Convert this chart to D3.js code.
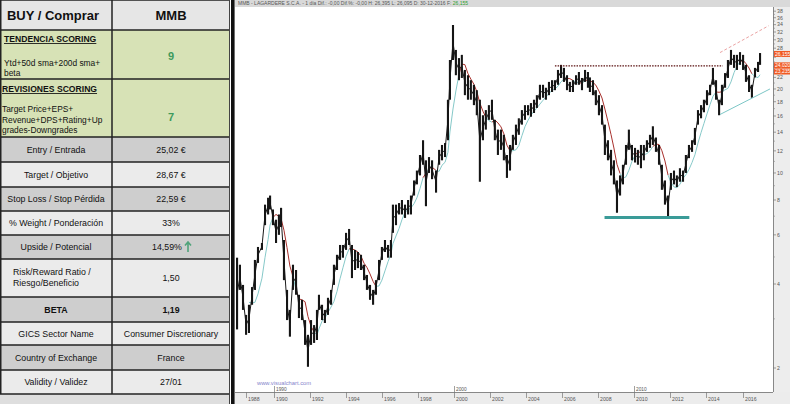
<!DOCTYPE html>
<html><head><meta charset="utf-8">
<script src="https://cdn.jsdelivr.net/npm/d3@7/dist/d3.min.js"></script>
<style>body{margin:0;background:#fff;} svg{display:block;font-family:"Liberation Sans",Arial,sans-serif;}</style>
</head><body><svg id="c" width="790" height="404"></svg>
<script>
// ---------- table data ----------
const rowLabels = [
  ["BUY / Comprar"],
  ["TENDENCIA SCORING", "Ytd+50d sma+200d sma+", "beta"],
  ["REVISIONES SCORING", "Target Price+EPS+", "Revenue+DPS+Rating+Up", "grades-Downgrades"],
  ["Entry / Entrada"],
  ["Target / Objetivo"],
  ["Stop Loss / Stop Pérdida"],
  ["% Weight / Ponderación"],
  ["Upside / Potencial"],
  ["Risk/Reward  Ratio /", "Riesgo/Beneficio"],
  ["BETA"],
  ["GICS Sector Name"],
  ["Country of Exchange"],
  ["Validity / Validez"]
];
const rowValues = ["MMB", "9", "7", "25,02 €", "28,67 €", "22,59 €", "33%", "14,59%", "1,50", "1,19", "Consumer Discretionary", "France", "27/01"];

// ---------- price data (Lagardère, log scale, ~2-month ranges) ----------
const years = [1987.98,1988.14,1988.31,1988.48,1988.64,1988.81,1988.97,1989.14,1989.36,1989.53,1989.70,1989.81,1989.97,1990.14,1990.30,1990.42,1990.58,1990.75,1990.91,1991.08,1991.25,1991.41,1991.58,1991.75,1991.91,1992.08,1992.25,1992.41,1992.52,1992.69,1992.85,1993.02,1993.19,1993.35,1993.52,1993.69,1993.85,1994.02,1994.19,1994.35,1994.52,1994.68,1994.85,1995.02,1995.18,1995.35,1995.52,1995.68,1995.85,1996.01,1996.18,1996.35,1996.51,1996.62,1996.79,1996.96,1997.12,1997.29,1997.46,1997.62,1997.79,1997.95,1998.12,1998.29,1998.45,1998.62,1998.79,1999.01,1999.18,1999.34,1999.51,1999.67,1999.78,1999.95,2000.11,2000.28,2000.44,2000.61,2000.78,2000.94,2001.11,2001.27,2001.44,2001.61,2001.77,2001.94,2002.11,2002.27,2002.44,2002.61,2002.77,2002.94,2003.11,2003.27,2003.44,2003.60,2003.77,2003.94,2004.11,2004.27,2004.44,2004.60,2004.77,2004.94,2005.10,2005.27,2005.44,2005.60,2005.77,2005.94,2006.10,2006.27,2006.43,2006.60,2006.77,2006.93,2007.10,2007.27,2007.43,2007.54,2007.71,2007.87,2008.04,2008.21,2008.37,2008.54,2008.71,2008.87,2009.04,2009.21,2009.37,2009.54,2009.70,2009.87,2010.04,2010.20,2010.37,2010.53,2010.70,2010.87,2011.03,2011.20,2011.37,2011.53,2011.70,2011.87,2012.03,2012.20,2012.36,2012.53,2012.70,2012.86,2013.03,2013.20,2013.36,2013.53,2013.70,2013.86,2014.03,2014.20,2014.36,2014.53,2014.70,2014.86,2015.03,2015.19,2015.36,2015.53,2015.69,2015.86,2016.03,2016.19,2016.36,2016.52,2016.69,2016.86,2016.97];
const highs = [4.97,4.69,3.97,3.10,3.37,3.90,4.88,5.43,5.61,7.7,8.15,8.3,7.4,6.8,7.1,7.5,5.75,3.81,3.23,4.69,4.49,3.66,3.51,2.97,2.63,2.97,2.85,3.23,3.66,3.37,3.23,3.57,3.81,4.69,5.09,5.52,5.52,6.1,6.3,5.52,5.30,5.21,5.09,4.69,4.31,3.97,3.81,4.13,4.88,5.43,5.75,5.52,5.75,7.7,7.7,7.8,8.0,7.7,8.0,8.3,9.4,10.2,11.6,13.1,11.1,11.4,11.1,10.2,12.1,12.6,12.8,18.3,25.4,33.9,27.6,25.8,26.5,23.4,22.4,21.5,20.7,19.8,18.3,16.1,16.8,17.5,18.3,15.5,14.3,14.3,13.7,11.6,12.6,13.7,14.9,15.7,16.8,17.5,17.5,17.8,18.3,19.0,20.7,20.7,20.2,21.2,21.5,21.5,23.4,24.4,23.8,22.4,21.2,21.5,22.4,23.0,21.9,23.4,23.0,22.0,21.5,19.8,19.0,17.5,14.9,13.1,12.1,11.1,9.4,9.8,10.7,12.6,14.3,12.6,12.3,12.1,12.6,12.6,13.1,13.7,14.7,13.4,12.6,10.7,9.4,8.3,10.0,10.2,9.8,10.4,10.2,11.6,12.6,13.1,14.5,16.8,17.5,18.3,19.8,20.7,23.8,21.5,18.3,20.7,22.8,25.4,27.6,26.5,26.5,27.1,26.5,24.4,22.4,20.7,23.8,25.0,26.9];
const lows = [2.75,3.81,3.23,2.63,2.67,3.37,3.81,4.76,5.30,6.5,7.1,7.4,6.5,5.61,6.0,6.4,4.13,2.97,2.59,3.81,3.66,3.02,2.97,2.42,2.02,2.42,2.46,2.52,3.23,2.97,2.90,3.10,3.37,3.97,4.49,4.88,4.97,5.30,5.52,4.2,4.49,4.56,4.49,4.13,3.81,3.51,3.37,3.66,4.13,4.88,5.21,4.97,4.97,6.1,6.5,7.1,7.1,6.9,7.1,7.1,8.3,9.1,9.8,10.7,7.6,10.0,9.5,8.5,10.7,11.1,11.4,13.1,18.3,25.4,22.4,21.5,21.9,19.0,18.3,18.3,17.5,16.1,9.3,13.1,14.3,15.5,15.5,13.1,11.6,12.1,11.1,9.6,10.2,12.1,12.6,13.7,14.9,15.5,16.1,15.9,16.4,17.1,18.3,18.6,18.3,19.0,19.5,19.8,20.7,21.9,21.2,19.8,19.5,19.5,20.7,20.7,19.8,21.2,20.2,19.5,19.0,17.5,16.1,14.9,11.6,11.1,9.8,9.1,7.2,8.3,9.1,10.7,12.1,11.1,10.9,10.7,10.4,11.1,11.9,12.3,12.6,11.9,10.7,8.7,7.7,7.0,8.7,9.1,8.9,9.3,9.3,10.0,11.3,11.9,12.6,14.9,15.7,16.5,17.5,19.0,20.7,18.3,16.1,17.5,20.2,21.9,24.4,23.8,23.4,24.4,23.4,21.2,19.5,18.6,22.0,23.0,24.4];

// axis labels
const priceTicks = [2,4,6,8,10,12,14,16,18,20,22,24,26,28,30,32,34,36,38];
const yearTicks = [1988.45,1990,1992,1994,1996,1998,2000,2002,2004,2006,2008,2010,2012,2014,2016];
const yearLabels = ["1988","1990","1992","1994","1996","1998","2000","2002","2004","2006","2008","2010","2012","2014","2016"];
const decadeTicks = [1990,2000,2010];
const lastLabels = ["26,155","24,020","23,235"];
const lastLabelPrices = [26.7,24.3,23.1];

// drawn annotation lines [year1, price1, year2, price2]
const resistanceLine = [2005.6, 24.2, 2014.9, 24.2];
const supportLine = [2008.35, 6.93, 2013.05, 6.93];
const lowerChannel = [2014.75, 16.2, 2017.52, 20.0];
const upperChannel = [2014.75, 27.0, 2017.45, 33.7];

const headerText = "MMB - LAGARDERE S.C.A. - 1 día  Dif.: -0,00  Dif.%: -0,00  H: 26,395  L: 26,095  D: 30-12-2016  F:";
const headerLast = "26,155";

// ---------- drawing ----------
const svg = d3.select("#c");

// ----- table -----
const rowTops = [0,30,79,137,162,187,211,235,259,297,322,345,370,394];
const colX = 112, tableW = 230;
const rowFill = (i) => i === 0 ? "#e6e6e6" : (i <= 2 ? "#d7e2b6" : ((i - 3) % 2 === 0 ? "#cecece" : "#ebebeb"));
const T = svg.append("g");
T.append("rect").attr("x",0).attr("y",394).attr("width",tableW).attr("height",10).attr("fill","#dedede");
rowLabels.forEach((lab, i) => {
  const y0 = rowTops[i], y1 = rowTops[i+1], h = y1 - y0, cy = (y0+y1)/2;
  T.append("rect").attr("x",0).attr("y",y0).attr("width",tableW).attr("height",h).attr("fill",rowFill(i));
  if (i === 0) {
    T.append("text").attr("x",53).attr("y",cy+4.5).attr("text-anchor","middle").attr("font-size",13).attr("font-weight","bold").attr("fill","#111").text(lab[0]);
    T.append("text").attr("x",171).attr("y",cy+4.5).attr("text-anchor","middle").attr("font-size",13).attr("font-weight","bold").attr("fill","#111").text(rowValues[i]);
  } else if (i <= 2) {
    const lineYs = i === 1 ? [42, 66, 76] : [92, 112, 122.5, 133];
    lab.forEach((t, k) => {
      const tx = T.append("text").attr("x", i===1 ? 4 : 2).attr("y", lineYs[k]).attr("font-size", k===0 ? 8.6 : 8.4).attr("fill","#111").text(t);
      if (k === 0) tx.attr("font-weight","bold").attr("text-decoration","underline");
    });
    T.append("text").attr("x",171).attr("y", i===1 ? 60 : 121).attr("text-anchor","middle").attr("font-size",11).attr("font-weight","bold").attr("fill","#3d9a5c").text(rowValues[i]);
  } else {
    const bold = lab[0] === "BETA";
    if (lab.length === 1) {
      T.append("text").attr("x",56).attr("y",cy+3.2).attr("text-anchor","middle").attr("font-size",8.8).attr("font-weight", bold?"bold":null).attr("fill","#111").text(lab[0]);
    } else {
      lab.forEach((t,k) => T.append("text").attr("x",13).attr("y",cy - 3 + k*10.5).attr("font-size",8.8).attr("fill","#111").text(t));
    }
    if (lab[0].startsWith("Upside")) {
      T.append("text").attr("x",167).attr("y",cy+3.2).attr("text-anchor","middle").attr("font-size",8.8).attr("fill","#111").text(rowValues[i]);
      T.append("path").attr("d", `M188,${cy+5} L188,${cy-4} M185,${cy-1.5} L188,${cy-5} L191,${cy-1.5}`).attr("stroke","#4fa37a").attr("stroke-width",1.6).attr("fill","none");
    } else {
      T.append("text").attr("x",171).attr("y",cy+3.2).attr("text-anchor","middle").attr("font-size",8.8).attr("font-weight", bold?"bold":null).attr("fill","#111").text(rowValues[i]);
    }
  }
});
rowTops.forEach(yy => T.append("line").attr("x1",0).attr("x2",tableW).attr("y1",yy).attr("y2",yy).attr("stroke","#222").attr("stroke-width",1.5));
T.append("line").attr("x1",colX).attr("x2",colX).attr("y1",0).attr("y2",394).attr("stroke","#222").attr("stroke-width",1.5);
T.append("line").attr("x1",0.75).attr("x2",0.75).attr("y1",0).attr("y2",394).attr("stroke","#222").attr("stroke-width",1.5);
T.append("line").attr("x1",229.5).attr("x2",229.5).attr("y1",0).attr("y2",404).attr("stroke","#444").attr("stroke-width",1);

// ----- chart frame -----
const cL = 235, cR = 773, cT = 7, cB = 392;
svg.append("rect").attr("x",231).attr("y",0).attr("width",3.6).attr("height",404).attr("fill","#111");
svg.append("rect").attr("x",cL).attr("y",0).attr("width",790-cL).attr("height",cT).attr("fill","#d9d9d9");
svg.append("rect").attr("x",cR).attr("y",cT).attr("width",790-cR).attr("height",cB-cT).attr("fill","#ededed");
svg.append("rect").attr("x",cL).attr("y",cB).attr("width",790-cL).attr("height",404-cB).attr("fill","#ececec");

const hdr = svg.append("text").attr("x",238).attr("y",5.3).attr("font-size",5).attr("fill","#555");
hdr.append("tspan").text(headerText + " ");
hdr.append("tspan").attr("fill","#2e9e2e").text(headerLast);

const x = d3.scaleLinear().domain([1990, 2016]).range([273.5, 742.54]);
const y = d3.scaleLog().domain([2, 32]).range([368, 32]);

svg.append("defs").append("clipPath").attr("id","pc").append("rect").attr("x",cL).attr("y",cT).attr("width",cR-cL).attr("height",cB-cT);
const P = svg.append("g").attr("clip-path","url(#pc)");

// moving average (derived from the read data), coloured by regime
const mids = highs.map((h,i) => Math.sqrt(h*lows[i]));
const W = 5;
const ma = mids.map((m,i) => i < W-1 ? null : Math.exp(d3.mean(mids.slice(i-W+1, i+1), v => Math.log(v))));
for (let i = W; i < years.length; i++) {
  const up = mids[i] >= ma[i];
  P.append("line").attr("x1", x(years[i-1])).attr("y1", y(ma[i-1])).attr("x2", x(years[i])).attr("y2", y(ma[i]))
    .attr("stroke", up ? "#86c9c9" : "#a8302c").attr("stroke-width", 1);
}

// price bars
P.append("path").datum(years.map((yr,i)=>[yr, mids[i]]))
  .attr("d", d3.line().x(d=>x(d[0])).y(d=>y(d[1])))
  .attr("fill","none").attr("stroke","#1a1a1a").attr("stroke-width",1);
P.selectAll("line.bar").data(years).enter().append("line").attr("class","bar")
  .attr("x1", d=>x(d)).attr("x2", d=>x(d))
  .attr("y1", (d,i)=>y(highs[i])).attr("y2", (d,i)=>y(lows[i]))
  .attr("stroke","#151515").attr("stroke-width",2.1);

// annotation lines
const drawSeg = (a, stroke, w, dash) => {
  P.append("line").attr("x1",x(a[0])).attr("y1",y(a[1])).attr("x2",x(a[2])).attr("y2",y(a[3]))
    .attr("stroke",stroke).attr("stroke-width",w).attr("stroke-dasharray",dash||null);
};
drawSeg(resistanceLine, "#5a1010", 1.2, "1.5,1.2");
drawSeg(supportLine, "#3a9b98", 3);
drawSeg(lowerChannel, "#7cc6c6", 1);
drawSeg(upperChannel, "#eba3a3", 1, "3,2");

// right axis
svg.append("line").attr("x1",cR+0.5).attr("x2",cR+0.5).attr("y1",cT).attr("y2",cB).attr("stroke","#888").attr("stroke-width",1);
d3.range(3, 39, 2).forEach(v => svg.append("line").attr("x1",cR).attr("x2",cR+2).attr("y1",y(v)).attr("y2",y(v)).attr("stroke","#888").attr("stroke-width",0.6));
const labelYs = lastLabelPrices.map(p => y(p));
priceTicks.forEach(v => {
  svg.append("line").attr("x1",cR).attr("x2",cR+3).attr("y1",y(v)).attr("y2",y(v)).attr("stroke","#777").attr("stroke-width",0.7);
  const hidden = labelYs.some(ly => Math.abs(ly - y(v)) < 5.5);
  if (!hidden) svg.append("text").attr("x",cR+4).attr("y",y(v)+1.8).attr("font-size",5.2).attr("fill","#555").text(v);
});
lastLabels.forEach((t,k) => {
  const yy = labelYs[k];
  svg.append("rect").attr("x",cR+1).attr("y",yy-3).attr("width",16).attr("height",6).attr("fill","#f05a23");
  svg.append("text").attr("x",cR+2).attr("y",yy+1.8).attr("font-size",5).attr("fill","#fff").text(t);
});

// bottom axis
svg.append("line").attr("x1",cL).attr("x2",cR).attr("y1",cB+0.5).attr("y2",cB+0.5).attr("stroke","#888").attr("stroke-width",1);
yearTicks.forEach((v,k) => {
  const xx = Math.round(x(v)) + 0.5;
  svg.append("line").attr("x1",xx).attr("x2",xx).attr("y1",cB).attr("y2",cB+6).attr("stroke","#777").attr("stroke-width",0.7);
  svg.append("text").attr("x",xx+1.5).attr("y",401).attr("font-size",5.2).attr("fill","#555").text(yearLabels[k]);
});
decadeTicks.forEach(v => {
  const xx = Math.round(x(v)) + 0.5;
  svg.append("line").attr("x1",xx).attr("x2",xx).attr("y1",cB-6).attr("y2",cB).attr("stroke","#777").attr("stroke-width",0.7);
  svg.append("text").attr("x",xx+1.5).attr("y",cB-1.5).attr("font-size",4.8).attr("fill","#555").text(v);
});
svg.append("text").attr("x",257).attr("y",384.5).attr("font-size",5.8).attr("fill","#8585cc").text("www.visualchart.com");
</script></body></html>
